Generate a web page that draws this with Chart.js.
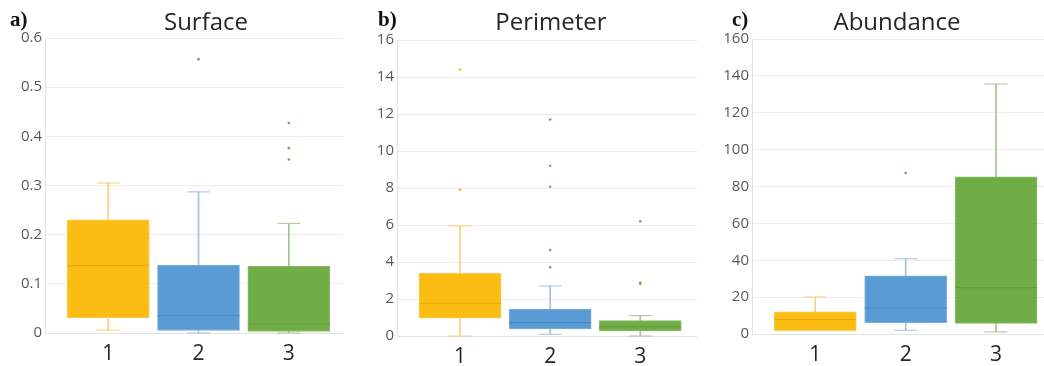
<!DOCTYPE html>
<html>
<head>
<meta charset="utf-8">
<script src="https://cdn.jsdelivr.net/npm/chart.js@4/dist/chart.umd.min.js"></script>
<style>
  body { margin: 0; background: #fff; }
  .wrap { position: relative; width: 1044px; height: 366px; }
  canvas { position: absolute; top: 0; }
</style>
</head>
<body>
<div class="wrap">
  <canvas id="c1" width="347" height="366" style="left:0px"></canvas>
  <canvas id="c2" width="350" height="366" style="left:347px"></canvas>
  <canvas id="c3" width="347" height="366" style="left:697px"></canvas>
</div>
<script>
const categories = ['1', '2', '3'];

// a) Surface
const surfMin = [0.006, 0.0, 0.0];
const surfQ1 = [0.031, 0.005, 0.003];
const surfMed = [0.137, 0.035, 0.018];
const surfQ3 = [0.230, 0.138, 0.136];
const surfMax = [0.305, 0.287, 0.223];
const surfOut = [[], [0.557], [0.427, 0.376, 0.353]];

// b) Perimeter
const perMin = [0.0, 0.09, 0.0];
const perQ1 = [0.96, 0.38, 0.27];
const perMed = [1.77, 0.72, 0.5];
const perQ3 = [3.39, 1.46, 0.83];
const perMax = [5.95, 2.7, 1.1];
const perOut = [[14.4, 7.9], [11.7, 9.2, 8.07, 4.65, 3.71], [6.2, 2.88, 2.82]];

// c) Abundance
const abMin = [1.8, 2.0, 1.1];
const abQ1 = [1.8, 6.1, 5.8];
const abMed = [7.9, 14.1, 25.1];
const abQ3 = [12.0, 31.6, 85.3];
const abMax = [20.1, 40.8, 135.6];
const abOut = [[], [87.3], []];

// tick labels
const surfTicks = [0, 0.1, 0.2, 0.3, 0.4, 0.5, 0.6];
const perTicks = [0, 2, 4, 6, 8, 10, 12, 14, 16];
const abTicks = [0, 20, 40, 60, 80, 100, 120, 140, 160];

const boxColors = ['#FBBC14', '#5B9BD5', '#70AD47'];
const boxEdge = ['#FCCB4C', '#7DB0DE', '#8BBD6C'];
const medColors = ['#E3A70E', '#4A86C0', '#5F9A3A'];
const whiskColors = ['#F6D07E', '#A3C1E5', '#A9C197'];

Chart.defaults.font.family = "'Open Sans', sans-serif";

const titlePlugin = {
  id: 'panelTitle',
  afterDraw(chart, args, opts) {
    const ctx = chart.ctx;
    ctx.save();
    ctx.fillStyle = '#262626';
    ctx.textBaseline = 'alphabetic';
    ctx.textAlign = 'center';
    ctx.font = '24px "Open Sans"';
    ctx.fillText(opts.text, opts.cx, 30);
    ctx.textAlign = 'left';
    ctx.font = 'bold 21px "Liberation Serif"';
    ctx.fillStyle = '#111';
    ctx.fillText(opts.letter, opts.lx, 26);
    ctx.restore();
  }
};

function makeChart(id, p) {
  const xs = categories.map((c, i) => i + 1);
  const caps = [];
  const capCol = [];
  const outs = [];
  const outCol = [];
  xs.forEach((x, i) => {
    caps.push({ x: x, y: p.min[i] }, { x: x, y: p.max[i] });
    capCol.push(whiskColors[i], whiskColors[i]);
    p.out[i].forEach(v => { outs.push({ x: x, y: v }); outCol.push(boxColors[i]); });
  });

  return new Chart(document.getElementById(id), {
    type: 'bar',
    data: {
      datasets: [
        {
          type: 'bar',
          data: xs.map((x, i) => ({ x: x, y: [p.min[i], p.max[i]] })),
          backgroundColor: whiskColors,
          barThickness: 1,
          grouped: false,
          order: 5
        },
        {
          type: 'bar',
          data: xs.map((x, i) => ({ x: x, y: [p.q1[i], p.q3[i]] })),
          backgroundColor: boxColors,
          borderColor: boxEdge,
          borderWidth: 1,
          borderSkipped: false,
          barThickness: 82,
          grouped: false,
          order: 4
        },
        {
          type: 'scatter',
          data: xs.map((x, i) => ({ x: x, y: p.med[i] })),
          pointStyle: 'line',
          pointRadius: 41,
          borderWidth: 1,
          borderColor: medColors,
          order: 3
        },
        {
          type: 'scatter',
          data: caps,
          pointStyle: 'line',
          pointRadius: 11.5,
          borderWidth: 1,
          borderColor: capCol,
          order: 2
        },
        {
          type: 'scatter',
          data: outs,
          pointRadius: 1.3,
          borderWidth: 0,
          backgroundColor: outCol,
          order: 1
        }
      ]
    },
    options: {
      responsive: false,
      animation: false,
      events: [],
      clip: false,
      layout: { autoPadding: false, padding: { left: 0, right: p.right, top: p.top, bottom: 0 } },
      plugins: {
        legend: { display: false },
        tooltip: { enabled: false },
        panelTitle: { text: p.title, cx: p.cx, letter: p.letter, lx: p.lx }
      },
      scales: {
        x: {
          type: 'linear',
          min: 0.3,
          max: p.xmax,
          offset: false,
          afterBuildTicks: s => { s.ticks = xs.map(v => ({ value: v })); },
          afterFit: s => { s.height = 366 - p.bottom; },
          ticks: {
            callback: (v) => categories[v - 1],
            color: '#262626',
            font: { size: 21 },
            padding: 8,
            maxRotation: 0
          },
          grid: { display: false, drawTicks: false },
          border: { display: true, color: '#e3e3e3' }
        },
        y: {
          min: p.ticks[0],
          max: p.ticks[p.ticks.length - 1],
          afterBuildTicks: s => { s.ticks = p.ticks.map(v => ({ value: v })); },
          afterFit: s => { s.width = p.left; },
          ticks: {
            color: '#595959',
            font: { size: 15 },
            padding: 3
          },
          grid: { color: '#ececec', drawTicks: false },
          border: { display: true, color: '#e3e3e3' }
        }
      }
    },
    plugins: [titlePlugin]
  });
}

makeChart('c1', {
  min: surfMin, q1: surfQ1, med: surfMed, q3: surfQ3, max: surfMax, out: surfOut,
  ticks: surfTicks, title: 'Surface', cx: 206, letter: 'a)', lx: 10,
  left: 45, right: 4, top: 38, bottom: 333, xmax: 3.6
});
makeChart('c2', {
  min: perMin, q1: perQ1, med: perMed, q3: perQ3, max: perMax, out: perOut,
  ticks: perTicks, title: 'Perimeter', cx: 204, letter: 'b)', lx: 31,
  left: 50, right: 0, top: 40, bottom: 336, xmax: 3.63
});
makeChart('c3', {
  min: abMin, q1: abQ1, med: abMed, q3: abQ3, max: abMax, out: abOut,
  ticks: abTicks, title: 'Abundance', cx: 200, letter: 'c)', lx: 35,
  left: 55, right: 0, top: 39, bottom: 334, xmax: 3.53
});
</script>
</body>
</html>
